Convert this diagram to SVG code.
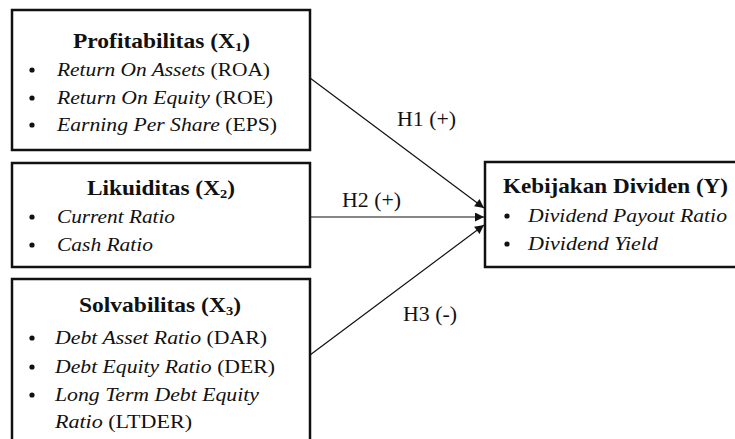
<svg xmlns="http://www.w3.org/2000/svg" width="735" height="439" viewBox="0 0 735 439">
<style>
.box{fill:#fff;stroke:#111;stroke-width:2.5}
text{font-family:"Liberation Serif","Times New Roman",serif;fill:#111}
.title{font-size:21px;font-weight:bold}
.item{font-size:19.5px}
.lbl{font-size:20px}
.i{font-style:italic}
.sub{font-size:13px}
.conn{stroke:#111;stroke-width:1.2;fill:none}
.bul{fill:#111}
</style>
<defs>
<marker id="ah" viewBox="0 0 10 10" refX="10" refY="5" markerWidth="10" markerHeight="9" markerUnits="userSpaceOnUse" orient="auto">
<path d="M0,0 L10,5 L0,10 z" fill="#111"/>
</marker>
</defs>
<rect width="735" height="439" fill="#fff"/>
<g id="connectors">
<line class="conn" x1="310" y1="78" x2="484" y2="208" marker-end="url(#ah)"/>
<line class="conn" x1="310" y1="217" x2="484" y2="217" marker-end="url(#ah)"/>
<line class="conn" x1="310" y1="355" x2="484" y2="225" marker-end="url(#ah)"/>
<text class="lbl" x="397" y="126" textLength="59" lengthAdjust="spacingAndGlyphs">H1 (+)</text>
<text class="lbl" x="342" y="207" textLength="59" lengthAdjust="spacingAndGlyphs">H2 (+)</text>
<text class="lbl" x="403" y="321" textLength="54" lengthAdjust="spacingAndGlyphs">H3 (-)</text>
</g>
<g id="profitabilitas">
<rect class="box" x="12" y="10" width="298" height="140"/>
<text class="title" x="73" y="48" textLength="177" lengthAdjust="spacingAndGlyphs">Profitabilitas (X<tspan class="sub" dy="3">1</tspan><tspan dy="-3">)</tspan></text>
<circle class="bul" cx="32" cy="70" r="2.6"/>
<circle class="bul" cx="32" cy="98" r="2.6"/>
<circle class="bul" cx="32" cy="125" r="2.6"/>
<text class="item" x="57" y="76" textLength="213" lengthAdjust="spacingAndGlyphs"><tspan class="i">Return On Assets</tspan> (ROA)</text>
<text class="item" x="57" y="104" textLength="216" lengthAdjust="spacingAndGlyphs"><tspan class="i">Return On Equity</tspan> (ROE)</text>
<text class="item" x="57" y="131" textLength="220" lengthAdjust="spacingAndGlyphs"><tspan class="i">Earning Per Share</tspan> (EPS)</text>
</g>
<g id="likuiditas">
<rect class="box" x="12" y="163" width="298" height="104"/>
<text class="title" x="87" y="195" textLength="148" lengthAdjust="spacingAndGlyphs">Likuiditas (X<tspan class="sub" dy="3">2</tspan><tspan dy="-3">)</tspan></text>
<circle class="bul" cx="32" cy="217" r="2.6"/>
<circle class="bul" cx="32" cy="245" r="2.6"/>
<text class="item i" x="57" y="223" textLength="118" lengthAdjust="spacingAndGlyphs">Current Ratio</text>
<text class="item i" x="57" y="251" textLength="96" lengthAdjust="spacingAndGlyphs">Cash Ratio</text>
</g>
<g id="solvabilitas">
<rect class="box" x="12" y="279" width="298" height="200"/>
<text class="title" x="79" y="312" textLength="162" lengthAdjust="spacingAndGlyphs">Solvabilitas (X<tspan class="sub" dy="3">3</tspan><tspan dy="-3">)</tspan></text>
<circle class="bul" cx="32" cy="338" r="2.6"/>
<circle class="bul" cx="32" cy="367" r="2.6"/>
<circle class="bul" cx="32" cy="395" r="2.6"/>
<text class="item" x="55" y="344" textLength="212" lengthAdjust="spacingAndGlyphs"><tspan class="i">Debt Asset Ratio</tspan> (DAR)</text>
<text class="item" x="55" y="373" textLength="220" lengthAdjust="spacingAndGlyphs"><tspan class="i">Debt Equity Ratio</tspan> (DER)</text>
<text class="item i" x="55" y="401" textLength="204" lengthAdjust="spacingAndGlyphs">Long Term Debt Equity</text>
<text class="item" x="55" y="428" textLength="137" lengthAdjust="spacingAndGlyphs"><tspan class="i">Ratio</tspan> (LTDER)</text>
</g>
<g id="kebijakan-dividen">
<rect class="box" x="485" y="162" width="262" height="105"/>
<text class="title" x="503" y="193" textLength="225" lengthAdjust="spacingAndGlyphs">Kebijakan Dividen (Y)</text>
<circle class="bul" cx="507" cy="216" r="2.6"/>
<circle class="bul" cx="507" cy="244" r="2.6"/>
<text class="item i" x="528" y="222" textLength="199" lengthAdjust="spacingAndGlyphs">Dividend Payout Ratio</text>
<text class="item i" x="528" y="250" textLength="130" lengthAdjust="spacingAndGlyphs">Dividend Yield</text>
</g>
</svg>
